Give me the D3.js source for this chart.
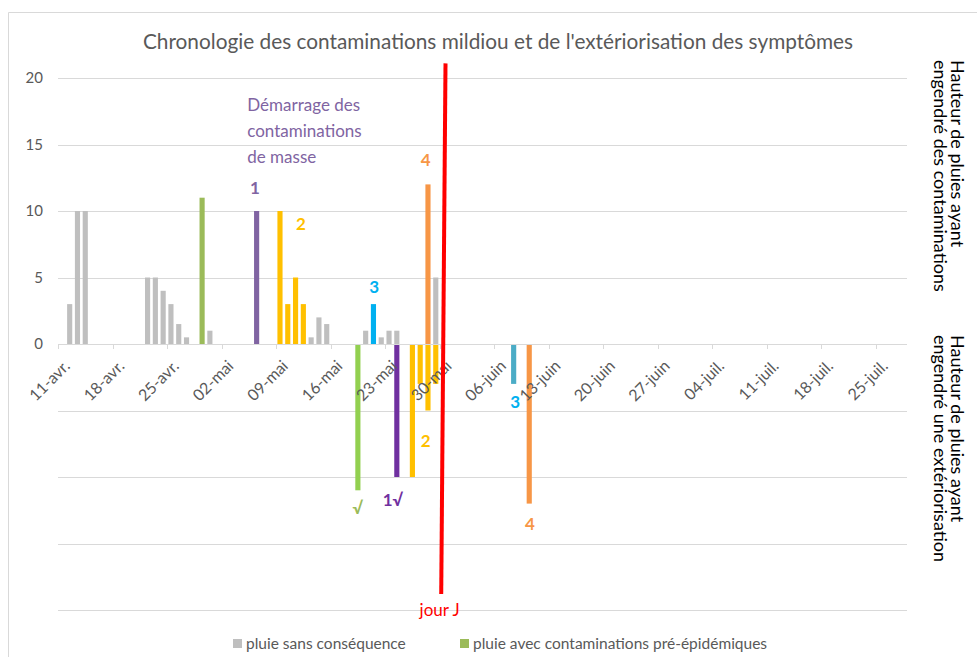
<!DOCTYPE html>
<html>
<head>
<meta charset="utf-8">
<script src="https://cdn.jsdelivr.net/npm/d3@7"></script>
<style>
  body { margin:0; background:#fff; }
  text { font-family: Lato, "Liberation Sans", sans-serif; }
</style>
</head>
<body>
<svg id="Vis" width="977" height="657"></svg>
<script>

// pluies positives (contaminations)
var pluieSans = [["2022-04-12",3],["2022-04-13",10],["2022-04-14",10],["2022-04-22",5],["2022-04-23",5],["2022-04-24",4],
  ["2022-04-25",3],["2022-04-26",1.5],["2022-04-27",0.5],["2022-04-30",1],["2022-05-13",0.5],["2022-05-14",2],
  ["2022-05-15",1.5],["2022-05-20",1],["2022-05-22",0.5],["2022-05-23",1],["2022-05-24",1],["2022-05-29",5]];
var pluiePreEpid = [["2022-04-29",11]];
var contam1 = [["2022-05-06",10]];
var contam2 = [["2022-05-09",10],["2022-05-10",3],["2022-05-11",5],["2022-05-12",3]];
var contam3 = [["2022-05-21",3]];
var contam4 = [["2022-05-28",12]];

// pluies negatives (exteriorisation)
var extPreEpid = [["2022-05-19",-11]];
var ext1 = [["2022-05-24",-10]];
var ext2 = [["2022-05-26",-10],["2022-05-27",-3],["2022-05-28",-5],["2022-05-29",-3]];
var ext3 = [["2022-06-08",-3]];
var ext4 = [["2022-06-10",-12]];

var yTicks = [20,15,10,5,0];
var gridVals = [20,15,10,5,-5,-10,-15,-20];
var tickDates = ["2022-04-11","2022-04-18","2022-04-25","2022-05-02","2022-05-09","2022-05-16","2022-05-23","2022-05-30",
  "2022-06-06","2022-06-13","2022-06-20","2022-06-27","2022-07-04","2022-07-11","2022-07-18","2022-07-25"];
var tickLabels = ["11-avr.","18-avr.","25-avr.","02-mai","09-mai","16-mai","23-mai","30-mai",
  "06-juin","13-juin","20-juin","27-juin","04-juil.","11-juil.","18-juil.","25-juil."];

// etiquettes : [texte, jour depuis 11-avr., valeur, couleur]
var etiquettes = [["1",25.3,11.7,"#8064A2"],["2",31.2,9.0,"#FFC000"],["3",40.6,4.3,"#00B0F0"],["4",47.2,13.8,"#F79646"],
  ["\u221A",38.5,-12.3,"#9BBB59"],["1\u221A",43.0,-11.7,"#7030A0"],["2",47.2,-7.3,"#FFC000"],
  ["3",58.7,-4.4,"#00B0F0"],["4",60.6,-13.5,"#F79646"]];
var jourJ = [[49.75,21.1],[49.2,-18.8]];

var svg = d3.select("#Vis");
var parse = d3.utcParse("%Y-%m-%d");
var start = parse("2022-04-11");

var x = d3.scaleUtc().domain([start, parse("2022-07-29")]).range([58, 907]);
var y = d3.scaleLinear().domain([-20, 20]).range([610, 78]);
var dayW = x(parse("2022-04-12")) - x(start);
var barW = dayW*0.66;
function xDay(n){ return x(start) + n*dayW; }
function xMid(s){ return x(parse(s)) + dayW/2; }

// cadre
svg.append("path").attr("d","M8.5,657 V12.5 H977").attr("fill","none").attr("stroke","#D9D9D9").attr("stroke-width",1);

// grille
svg.append("g").selectAll("line").data(gridVals).enter().append("line")
  .attr("x1",58).attr("x2",907)
  .attr("y1",function(d){return Math.round(y(d))+0.5;}).attr("y2",function(d){return Math.round(y(d))+0.5;})
  .attr("stroke","#D9D9D9").attr("stroke-width",1);

// axe y
svg.append("g").selectAll("text").data(yTicks).enter().append("text")
  .attr("x",43).attr("y",function(d){return y(d);}).attr("dy","0.35em")
  .attr("text-anchor","end").attr("fill","#595959").style("font-size","15px")
  .text(function(d){return d;});

function drawBars(data, color){
  svg.append("g").selectAll("rect").data(data).enter().append("rect")
    .attr("x",function(d){return xMid(d[0]) - barW/2;})
    .attr("width",barW)
    .attr("y",function(d){return Math.min(y(d[1]), y(0));})
    .attr("height",function(d){return Math.abs(y(d[1]) - y(0));})
    .attr("fill",color);
}
drawBars(pluieSans,"#BFBFBF");
drawBars(pluiePreEpid,"#9BBB59");
drawBars(contam1,"#8064A2");
drawBars(contam2,"#FFC000");
drawBars(contam3,"#00B0F0");
drawBars(contam4,"#F79646");
drawBars(extPreEpid,"#92D050");
drawBars(ext1,"#7030A0");
drawBars(ext2,"#FFC000");
drawBars(ext3,"#4BACC6");
drawBars(ext4,"#F79646");

// axe x
var gx = svg.append("g");
gx.append("line").attr("x1",58).attr("x2",907).attr("y1",Math.round(y(0))+0.5).attr("y2",Math.round(y(0))+0.5)
  .attr("stroke","#D9D9D9");
gx.selectAll(".tk").data(tickDates).enter().append("line")
  .attr("x1",function(d){return Math.round(x(parse(d)))+0.5;}).attr("x2",function(d){return Math.round(x(parse(d)))+0.5;})
  .attr("y1",y(0)).attr("y2",y(0)+5).attr("stroke","#D9D9D9");
gx.selectAll("text").data(tickDates).enter().append("text")
  .attr("transform",function(d){return "translate("+(x(parse(d))+9)+","+(y(0)+19)+") rotate(-45)";})
  .attr("text-anchor","end").attr("dy","0.35em").attr("fill","#595959").style("font-size","16px")
  .text(function(d,i){return tickLabels[i];});

// ligne jour J
svg.append("path")
  .attr("d", d3.line().x(function(d){return xDay(d[0]);}).y(function(d){return y(d[1]);})(jourJ))
  .attr("stroke","#FF0000").attr("stroke-width",4).attr("fill","none");
svg.append("text").attr("x",xDay(49.0)).attr("y",y(-20)).attr("dy","0.35em")
  .attr("text-anchor","middle").attr("fill","#FF0000").style("font-size","17px").text("jour J");

// etiquettes
svg.append("g").selectAll("text").data(etiquettes).enter().append("text")
  .attr("x",function(d){return xDay(d[1]);}).attr("y",function(d){return y(d[2]);}).attr("dy","0.35em")
  .attr("text-anchor","middle").attr("fill",function(d){return d[3];})
  .style("font-size","17px").style("font-weight","bold")
  .text(function(d){return d[0];});

var demarrage = ["Démarrage des","contaminations","de masse"];
svg.append("g").selectAll("text").data(demarrage).enter().append("text")
  .attr("x",xDay(24.3)).attr("y",function(d,i){return y(18.0) + i*26;}).attr("dy","0.35em")
  .attr("fill","#8064A2").style("font-size","17px").text(function(d){return d;});

// titre
svg.append("text").attr("x",498).attr("y",42).attr("dy","0.35em").attr("text-anchor","middle")
  .attr("fill","#595959").style("font-size","20.8px")
  .text("Chronologie des contaminations mildiou et de l'extériorisation des symptômes");

// titres axe droite
var titresDroite = [[60,"Hauteur de pluies ayant","engendré des contaminations"],[335,"Hauteur de pluies ayant","engendré une extériorisation"]];
titresDroite.forEach(function(t){
  var g = svg.append("g").attr("transform","translate(951,"+t[0]+") rotate(90)");
  g.append("text").attr("x",0).attr("y",0).attr("fill","#000").style("font-size","18px").text(t[1]);
  g.append("text").attr("x",0).attr("y",17).attr("fill","#000").style("font-size","18px").text(t[2]);
});

// legende
var legende = [["pluie sans conséquence","#BFBFBF",233],["pluie avec contaminations pré-épidémiques","#9BBB59",460]];
var lg = svg.append("g").selectAll("g").data(legende).enter().append("g");
lg.append("rect").attr("x",function(d){return d[2];}).attr("y",639).attr("width",9).attr("height",9)
  .attr("fill",function(d){return d[1];});
lg.append("text").attr("x",function(d){return d[2]+13;}).attr("y",644).attr("dy","0.35em")
  .attr("fill","#595959").style("font-size","15.5px").text(function(d){return d[0];});

</script>
</body>
</html>
